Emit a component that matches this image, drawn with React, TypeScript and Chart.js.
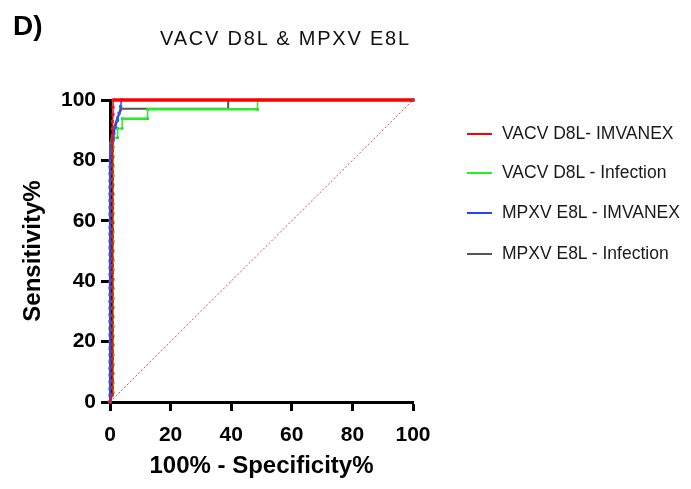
import React, { useEffect, useRef } from "react";
import { Chart, registerables } from "chart.js";

Chart.register(...registerables);

const FONT = "'Liberation Sans', Arial, Helvetica, sans-serif";

const panelLabel = "D)";
const chartTitle = "VACV D8L & MPXV E8L";
const xAxisTitle = "100% - Specificity%";
const yAxisTitle = "Sensitivity%";

const seriesNames = [
  "VACV D8L- IMVANEX",
  "VACV D8L - Infection",
  "MPXV E8L - IMVANEX",
  "MPXV E8L - Infection",
];
const seriesColors = ["#ff0000", "#22ee22", "#2244ff", "#555555"];
const markerColors = ["#d81e3a", "#33dd33", "#3355ee", "#666666"];

// VACV D8L - IMVANEX
const redFpr = [
  0, 0.8, 0.8, 0.8, 0.8, 0.8, 0.8, 0.8, 0.8, 0.8, 0.8, 0.8, 0.8, 0.8, 0.8,
  0.8, 0.8, 0.8, 0.8, 0.8, 0.8, 0.8, 0.8, 0.8, 0.8, 0.8, 0.8, 0.8, 0.8, 0.8,
  0.8, 0.8, 0.8, 0.8, 0.8, 0.8, 0.8, 0.8, 0.8, 0.8, 1.0, 1.0, 1.0, 100,
];
const redSens = [
  0, 2.4, 4.8, 7.1, 9.5, 11.9, 14.3, 16.7, 19.0, 21.4, 23.8, 26.2, 28.6, 31.0,
  33.3, 35.7, 38.1, 40.5, 42.9, 45.2, 47.6, 50.0, 52.4, 54.8, 57.1, 59.5, 61.9,
  64.3, 66.7, 69.0, 71.4, 73.8, 76.2, 78.6, 81.0, 83.3, 85.7, 88.1, 90.5, 92.9,
  95.2, 97.6, 100, 100,
];

// VACV D8L - Infection
const greenFpr = [
  0, 1.1, 1.1, 1.1, 1.1, 1.1, 1.1, 1.1, 1.1, 1.1, 1.1, 1.1, 1.1, 1.1, 1.1, 1.1,
  1.1, 1.1, 1.1, 1.1, 1.1, 1.1, 1.1, 1.1, 1.1, 1.1, 1.1, 1.1, 1.1, 2.5, 2.5,
  4.0, 4.0, 12.4, 12.4, 48.7, 48.7, 100,
];
const greenSens = [
  0, 3.1, 6.3, 9.4, 12.5, 15.6, 18.8, 21.9, 25.0, 28.1, 31.3, 34.4, 37.5, 40.6,
  43.8, 46.9, 50.0, 53.1, 56.3, 59.4, 62.5, 65.6, 68.8, 71.9, 75.0, 78.1, 81.3,
  84.4, 87.5, 87.5, 90.6, 90.6, 93.8, 93.8, 96.9, 96.9, 100, 100,
];

// MPXV E8L - IMVANEX
const blueFpr = [
  0, 0, 0, 0, 0, 0, 0, 0, 0, 0, 0, 0, 0, 0, 0, 0, 0, 0, 0, 0, 0, 0, 0, 0, 0, 0,
  0, 0, 0, 0, 0, 0, 0, 0, 0, 0, 0, 0.3, 0.6, 1.0, 1.3, 1.8, 2.5, 3.0, 3.5, 3.8,
  100,
];
const blueSens = [
  0, 2.2, 4.4, 6.7, 8.9, 11.1, 13.3, 15.6, 17.8, 20.0, 22.2, 24.4, 26.7, 28.9,
  31.1, 33.3, 35.6, 37.8, 40.0, 42.2, 44.4, 46.7, 48.9, 51.1, 53.3, 55.6, 57.8,
  60.0, 62.2, 64.4, 66.7, 68.9, 71.1, 73.3, 75.6, 77.8, 80.0, 82.2, 84.4, 86.7,
  88.9, 91.1, 93.3, 95.6, 97.8, 100, 100,
];

// MPXV E8L - Infection
const grayFpr = [
  0, 0, 0, 0, 0, 0, 0, 0, 0, 0, 0, 0, 0, 0, 0, 0, 0, 0, 0, 0, 0, 0, 0, 0, 0, 0,
  0, 0, 0, 0, 0, 0.8, 1.5, 2.5, 3.8, 39, 39, 100,
];
const graySens = [
  0, 2.9, 5.7, 8.6, 11.4, 14.3, 17.1, 20.0, 22.9, 25.7, 28.6, 31.4, 34.3, 37.1,
  40.0, 42.9, 45.7, 48.6, 51.4, 54.3, 57.1, 60.0, 62.9, 65.7, 68.6, 71.4, 74.3,
  77.1, 80.0, 82.9, 85.7, 88.6, 91.4, 94.3, 97.1, 97.1, 100, 100,
];

const diagonalFpr = [0, 100];
const diagonalSens = [0, 100];

const toPoints = (xs: number[], ys: number[]) =>
  xs.map((x, i) => ({ x, y: ys[i] }));

export default function App() {
  const canvasRef = useRef<HTMLCanvasElement | null>(null);

  useEffect(() => {
    if (!canvasRef.current) return;
    Chart.defaults.font.family = FONT;
    const mk = (
      idx: number,
      xs: number[],
      ys: number[],
      width: number,
      vertWidth: number,
      radius: number
    ) => ({
      label: seriesNames[idx],
      data: toPoints(xs, ys),
      showLine: true,
      clip: false as const,
      borderColor: seriesColors[idx],
      borderWidth: width,
      segment: {
        borderWidth: (ctx: any) =>
          Math.abs(ctx.p1.parsed.x - ctx.p0.parsed.x) > 2 ? width : vertWidth,
      },
      pointStyle: "rect" as const,
      pointRadius: radius,
      pointBorderWidth: 0,
      pointBackgroundColor: markerColors[idx],
      pointBorderColor: markerColors[idx],
      tension: 0,
    });
    const chart = new Chart(canvasRef.current, {
      type: "scatter",
      data: {
        datasets: [
          mk(0, redFpr, redSens, 3.5, 1.5, 2.2),
          mk(2, blueFpr, blueSens, 2, 1.5, 2.2),
          mk(1, greenFpr, greenSens, 2.5, 1.5, 2),
          mk(3, grayFpr, graySens, 2, 2, 1.5),
          {
            label: "diagonal",
            data: toPoints(diagonalFpr, diagonalSens),
            showLine: true,
            borderColor: "#ff4040",
            borderWidth: 1,
            borderDash: [2, 2],
            pointRadius: 0,
          },
        ],
      },
      options: {
        animation: false,
        responsive: false,
        maintainAspectRatio: false,
        layout: { padding: { top: 100, right: 278, left: 0, bottom: 0 } },
        plugins: {
          legend: { display: false },
          tooltip: { enabled: false },
          title: { display: false },
        },
        scales: {
          x: {
            type: "linear",
            min: 0,
            max: 100,
            afterFit: (s: any) => {
              s.height = 87;
            },
            ticks: {
              stepSize: 20,
              color: "#000",
              padding: 12,
              font: { size: 21, weight: "bold", family: FONT },
            },
            grid: {
              display: true,
              drawOnChartArea: false,
              drawTicks: true,
              tickLength: 9,
              tickWidth: 3,
              tickColor: "#000",
            },
            border: { display: true, color: "#000", width: 3 },
            title: {
              display: true,
              text: xAxisTitle,
              color: "#000",
              font: { size: 24, weight: "bold", family: FONT },
              padding: { top: 0, bottom: 8 },
            },
          },
          y: {
            type: "linear",
            min: 0,
            max: 100,
            afterFit: (s: any) => {
              s.width = 110;
            },
            ticks: {
              stepSize: 20,
              color: "#000",
              padding: 5,
              font: { size: 21, weight: "bold", family: FONT },
            },
            grid: {
              display: true,
              drawOnChartArea: false,
              drawTicks: true,
              tickLength: 9,
              tickWidth: 3,
              tickColor: "#000",
            },
            border: { display: true, color: "#000", width: 3 },
            title: {
              display: true,
              text: yAxisTitle,
              color: "#000",
              font: { size: 24, weight: "bold", family: FONT },
              padding: { top: 19, bottom: 0 },
            },
          },
        },
      },
    });
    return () => chart.destroy();
  }, []);

  const legendRows = [134, 172.5, 213, 254];
  const legendFont = 17.5;

  return (
    <div
      style={{
        position: "absolute",
        left: 0,
        top: 0,
        width: 691,
        height: 489,
        background: "#fff",
        fontFamily: FONT,
      }}
    >
      <canvas
        ref={canvasRef}
        width={691}
        height={489}
        style={{ position: "absolute", left: 0, top: 0 }}
      />
      <div
        style={{
          position: "absolute",
          left: 13,
          top: 12,
          fontSize: 28,
          lineHeight: "28px",
          fontWeight: "bold",
          color: "#000",
          whiteSpace: "nowrap",
        }}
      >
        {panelLabel}
      </div>
      <div
        style={{
          position: "absolute",
          left: 160,
          top: 27.5,
          fontSize: 20,
          lineHeight: "20px",
          letterSpacing: "1.8px",
          color: "#111",
          whiteSpace: "nowrap",
        }}
      >
        {chartTitle}
      </div>
      {seriesNames.map((name, i) => (
        <div key={name}>
          <div
            style={{
              position: "absolute",
              left: 467,
              top: legendRows[i] - 1,
              width: 25,
              height: 2,
              background: seriesColors[i],
            }}
          />
          <div
            style={{
              position: "absolute",
              left: 502,
              top: legendRows[i] - 8.6,
              fontSize: legendFont,
              lineHeight: `${legendFont}px`,
              color: "#1a1a1a",
              whiteSpace: "nowrap",
            }}
          >
            {name}
          </div>
        </div>
      ))}
    </div>
  );
}
